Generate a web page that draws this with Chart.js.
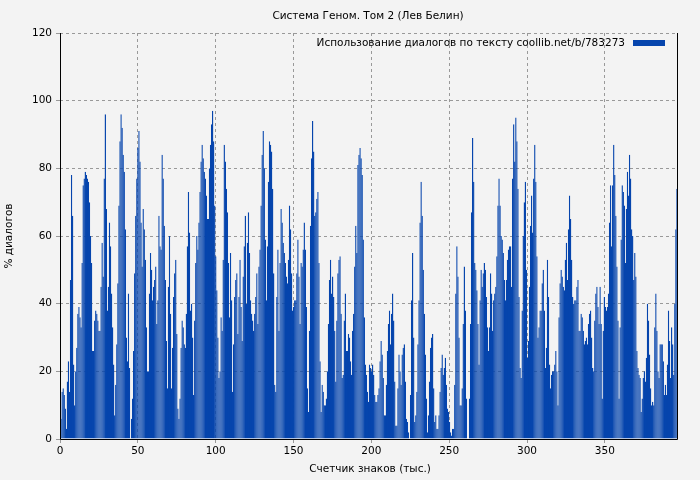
<!DOCTYPE html>
<html><head><meta charset="utf-8">
<script src="https://cdn.jsdelivr.net/npm/chart.js@4/dist/chart.umd.min.js"></script>
<style>html,body{margin:0;background:#f3f3f3}#w{width:700px;height:480px}</style>
</head><body><div id="w"><canvas id="c"></canvas></div>
<script>
const title = "Система Геном. Том 2 (Лев Белин)";
const seriesLabel = "Использование диалогов по тексту coollib.net/b/783273";
const xTitle = "Счетчик знаков (тыс.)";
const yTitle = "% диалогов";
const xMax = 397;
const xTicks = [0,50,100,150,200,250,300,350];
const yTicks = [0,20,40,60,80,100,120];
const seg1 = [12,6,14,15,13,9,3,17,23,14,47,78,66,22,10,20,27,37,39,36,33,52,75,77,79,78,77,76,70,60,52,26,26,35,38,37,35,32,32,45,58,48,77,96,68,38,45,64,57,43,33,22,7,16,28,46,69,88,96,92,84,79,62,30,23,43,21,0,6,12,26,49,66,77,86,91,82,64,51,68,62,53,33,20,20,43,55,50,41,45,47,51,34];
const seg2 = [41,66,57,56,84,77,63,47,29,15,45,60,37,15,27,42,49,53,31,9,6,12,27,35,33,28,27,37,57,73,61,38,40,30,13,35,52,60,56,64,73,82,87,83,79,77,72,65,65,80,87,93,97,88,69,54,44,30,18,20,36,32,53,87,82,74,67,52,36,55,41,14,28,42,47,49,31,42,53,39,29,48,57,66,40,58,67,55,41,37,35,32,37,42,49,34,51,56,69,84,91,80];
const seg3 = [59,41,57,76,88,87,85,74,49,16,14,42,56,32,52,68,64,58,55,52,48,46,53,69,62,49,38,39,41,41,49,59,48,34,52,51,56,64,56,39,15,8,32,63,83,94,85,66,67,71,73,52,23,8,16,14,10,10,12,20,34,47,53,43,48,42,32,17,35,49,53,54,37,18,19,35,43,26,26,31,30,23,19,32,37,51,63,55,81,84,86,83,78,59,36,22,19,14,11,22];
const seg4 = [21,20,22,19,13,11,11,13,15,23,29,25,18,7,7,16,26,34,38,28,37,43,35,17,4,4,15,25,20,16,25,27,28,17,6,5,2,0,13,41,55,30,5,7,14,28,41,64,76,66,50,37,25,12,2,7,17,27,30,31,15,5,7,3,3,7,14,21,25,19,21,24,16,9,8,5,2,1,3,3,16,43,57,48,30,10,10,15,34,51,38,12,0,0,12,34,67,89];
const seg5 = [76,52,50,44,34,22,41,50,45,49,52,50,42,33,26,33,49,43,32,41,43,45,54,69,77,69,60,59,55,47,41,47,53,56,57,57,45,77,93,82,95,88,74,42,21,18,38,60,70,76,50,24,29,45,63,72,61,77,87,76,54,30,33,38,38,46,50,38,21,27,53,42,22,15,19,20,20,22,26,20,10,36,46,50,48,45,44,53,58,47,62,72,65,53,42,40,41,41,45,47,32,32,37];
const seg6 = [36,32,28,29,30,28,34,37,38,30,21,20,35,43,45,39,34,45,34,12,32,42,39,38,39,43,64,75,57,75,87,78,66,51,35,12,33,59,75,73,69,52,68,79,72,84,77,62,60,47,55,48,26,21,19,18,8,12,18,20,17,24,40,35,25,15,10,11,10,33,43,32,20,18,28,28,28,23,13,16,13,22,38,29,18,33,28,19,40,62,74,52];
const values = [...seg1,...seg2,...seg3,...seg4,...seg5,...seg6];
const categories = values.map((v,i)=>i);
const barColor = '#0645ad';

const frame = {
  id:'frame',
  beforeDraw(ch){const c=ch.ctx;c.save();c.fillStyle='#f3f3f3';c.fillRect(0,0,ch.width,ch.height);c.restore();},
  afterDraw(ch){
    const c=ch.ctx,a=ch.chartArea;c.save();
    c.strokeStyle='#000';c.lineWidth=1;c.beginPath();
    c.moveTo(a.left+0.5,a.top);c.lineTo(a.left+0.5,a.bottom+0.5);c.lineTo(a.right-0.5,a.bottom+0.5);c.lineTo(a.right-0.5,a.top);c.stroke();
    c.fillStyle='#000';c.font='10.5px "DejaVu Sans"';c.textAlign='center';c.textBaseline='middle';
    c.fillText(title,368,16);
    c.textAlign='right';c.fillText(seriesLabel,a.right-53,43);
    c.fillStyle=barColor;c.fillRect(a.right-45,40,32,6);
    c.fillStyle='#000';c.textAlign='center';c.fillText(xTitle,370,469);
    c.translate(9,236);c.rotate(-Math.PI/2);c.fillText(yTitle,0,0);
    c.restore();
  }
};
new Chart(document.getElementById('c'),{
  type:'bar',
  data:{labels:categories,datasets:[{label:seriesLabel,data:values,backgroundColor:barColor,borderColor:barColor,barPercentage:1.35,categoryPercentage:1,borderWidth:{left:1,right:1,top:0,bottom:0},borderSkipped:false}]},
  options:{
    responsive:true,maintainAspectRatio:false,animation:false,
    layout:{padding:{top:33,right:22,left:0,bottom:0}},
    plugins:{legend:{display:false},title:{display:false},tooltip:{enabled:false}},
    scales:{
      x:{type:'category',offset:false,display:false,grid:{display:false}},
      x2:{type:'linear',position:'bottom',offset:false,min:0,max:xMax,afterBuildTicks(s){s.ticks=xTicks.map(v=>({value:v}));},
        afterFit(s){s.height=41;},
        grid:{color:'#999',lineWidth:1,tickLength:4,drawTicks:true,offset:false},border:{display:false,dash:[3,3]},
        ticks:{color:'#000',font:{family:'DejaVu Sans',size:10.5},padding:2,maxRotation:0}},
      y:{min:0,max:120,afterBuildTicks(s){s.ticks=yTicks.map(v=>({value:v}));},
        afterFit(s){s.width=60;},
        grid:{color:'#999',lineWidth:1,tickLength:4},border:{display:false,dash:[3,3]},
        ticks:{color:'#000',font:{family:'DejaVu Sans',size:10.5},padding:4}}
    }
  },
  plugins:[frame]
});
</script></body></html>
